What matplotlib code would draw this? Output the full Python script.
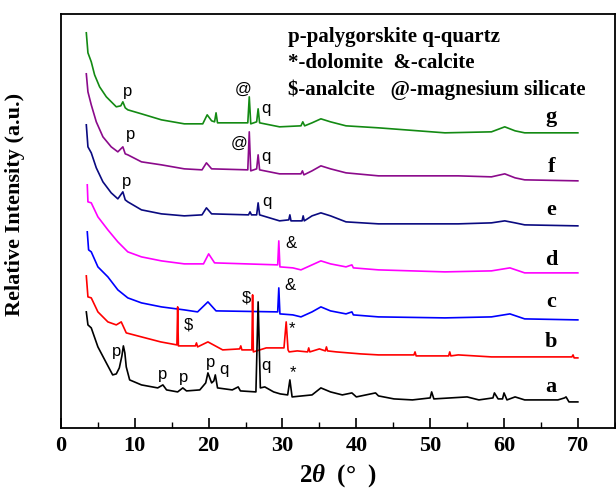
import matplotlib

matplotlib.use("Agg")
import matplotlib.pyplot as plt
from matplotlib.ticker import MultipleLocator

plt.rcParams["font.family"] = "Liberation Serif"
plt.rcParams["font.weight"] = "bold"
plt.rcParams["axes.labelweight"] = "bold"
plt.rcParams["mathtext.fontset"] = "custom"
plt.rcParams["mathtext.it"] = "Liberation Serif:italic:bold"
plt.rcParams["mathtext.rm"] = "Liberation Serif:bold"

# XRD traces: 2theta (deg) and stacked relative intensity
g_tt = [3.43, 3.65, 4.1, 4.55, 5.23, 6.14, 7.49, 8.1, 8.38, 8.7, 9.05, 10.9, 13.6, 16.7, 19.2,
        19.8, 20.4, 20.8, 21.0, 21.2, 25.3, 25.5, 25.7, 26.5, 26.7, 26.9, 29.6, 32.5, 32.75,
        33.0, 34.0, 35.2, 36.5, 38.6, 43.0, 52.0, 58.3, 60.1, 61.5, 62.8, 70.0]
g_int = [395, 375, 366, 353, 341, 331, 321, 322, 326, 320, 318, 314, 308, 304, 304,
         313, 307, 306, 315, 305, 305, 331, 304, 306, 319, 305, 301, 302, 306,
         302, 305, 309, 306, 302, 300, 295, 296, 301, 297, 295, 295]

f_tt = [3.43, 3.65, 4.1, 4.78, 5.68, 6.8, 7.7, 8.38, 8.7, 9.05, 10.9, 13.6, 16.7, 19.1, 19.7,
        20.4, 25.3, 25.5, 25.7, 26.5, 26.7, 26.9, 29.6, 32.5, 32.7, 32.9, 34.0, 35.2, 36.5,
        38.6, 43.0, 53.8, 58.3, 60.1, 61.5, 62.8, 70.0]
f_int = [354, 336, 323, 306, 291, 281, 276, 281, 274, 273, 266, 263, 259, 258, 265,
         259, 258, 296, 257, 259, 273, 258, 254, 254, 257, 253, 257, 262, 259,
         255, 252, 252, 251, 254, 250, 248, 247]

e_tt = [3.43, 3.65, 4.1, 4.78, 5.68, 6.8, 7.7, 8.38, 8.7, 9.05, 10.9, 13.6, 16.7, 19.1, 19.7,
        20.4, 25.4, 25.6, 25.8, 26.5, 26.7, 26.9, 29.6, 30.85, 31.0, 31.15, 32.65, 32.8, 32.95,
        34.0, 35.2, 36.5, 38.6, 43.0, 53.8, 58.3, 60.1, 61.5, 62.8, 70.0]
e_int = [303, 281, 275, 260, 246, 235, 229, 236, 228, 226, 218, 214, 212, 213, 220,
         214, 213, 216, 213, 213, 225, 213, 207, 208, 213, 207, 207, 212, 207,
         212, 215, 212, 206, 204, 204, 205, 207, 205, 203, 202]

d_tt = [3.56, 3.65, 4.1, 5.0, 6.35, 7.7, 9.05, 10.9, 13.6, 16.7, 19.3, 20.0, 20.8, 29.35,
        29.5, 29.65, 31.4, 32.5, 34.0, 35.2, 36.5, 38.6, 39.4, 39.6, 43.0, 52.0, 58.3, 60.8,
        62.0, 62.8, 70.0]
d_int = [243, 226, 225, 211, 198, 186, 176, 171, 167, 164, 164, 174, 165, 163,
         187, 161, 160, 158, 163, 167, 164, 161, 163, 160, 158, 156, 157, 160,
         157, 155, 155]

c_tt = [3.56, 3.74, 4.1, 5.0, 6.35, 7.7, 9.05, 10.9, 13.6, 16.7, 18.5, 19.9, 21.0, 29.35,
        29.5, 29.65, 31.4, 32.5, 34.0, 35.2, 36.5, 38.6, 39.4, 39.6, 43.0, 52.0, 58.3, 60.8,
        62.0, 62.8, 70.0]
c_int = [196, 178, 176, 161, 151, 138, 130, 125, 121, 118, 116, 126, 117, 116,
         140, 114, 113, 111, 116, 121, 117, 114, 116, 113, 111, 110, 111, 114,
         111, 109, 108]

b_tt = [3.43, 3.65, 4.1, 5.0, 6.35, 7.49, 8.16, 8.84, 10.9, 13.5, 15.7, 15.8, 15.9, 18.2,
        18.35, 18.5, 19.9, 21.9, 24.2, 24.35, 24.5, 25.85, 25.95, 26.05, 27.8, 30.2, 30.5,
        30.75, 30.9, 32.0, 33.4, 33.55, 33.7, 35.0, 35.8, 35.95, 36.1, 37.3, 40.6, 43.0, 47.8,
        47.95, 48.1, 52.5, 52.65, 52.8, 53.8, 58.3, 63.7, 69.2, 69.35, 69.5, 70.0]
b_int = [152, 131, 130, 116, 106, 103, 106, 95, 91, 86, 83, 121, 82, 82,
         85, 81, 86, 78, 79, 82, 78, 78, 133, 76, 80, 80, 106,
         78, 76, 77, 76, 80, 76, 79, 77, 81, 77, 76, 74, 73, 73,
         76, 72, 72, 76, 72, 73, 71, 71, 71, 73, 70, 70]

a_tt = [3.43, 3.65, 4.1, 5.0, 6.14, 7.0, 7.49, 7.9, 8.25, 8.45, 8.65, 8.84, 9.3, 10.9, 13.1,
        13.8, 14.3, 15.8, 16.5, 17.0, 18.8, 19.6, 19.9, 20.4, 20.7, 20.9, 21.2, 23.2, 24.0,
        24.3, 26.4, 26.7, 27.0, 27.6, 28.8, 29.7, 30.7, 31.0, 31.3, 34.0, 35.2, 36.5, 38.1,
        39.4, 40.0, 42.6, 43.0, 45.1, 47.6, 50.0, 50.2, 50.5, 55.0, 56.6, 58.5, 58.7, 59.2,
        59.8, 60.0, 60.4, 61.5, 62.8, 67.3, 68.2, 68.4, 68.8, 70.0]
a_int = [116, 103, 100, 81, 65, 53, 54, 60, 72, 82, 75, 61, 48, 43, 40,
         43, 38, 36, 40, 37, 38, 45, 55, 45, 47, 53, 40, 38, 41,
         37, 36, 126, 40, 41, 36, 34, 33, 48, 31, 33, 40, 36, 33,
         35, 31, 35, 32, 29, 28, 30, 36, 29, 31, 28, 30, 35, 29,
         29, 35, 28, 31, 28, 28, 30, 31, 26, 26]

samples = ["g", "f", "e", "d", "c", "b", "a"]
traces = {"g": (g_tt, g_int), "f": (f_tt, f_int), "e": (e_tt, e_int), "d": (d_tt, d_int),
          "c": (c_tt, c_int), "b": (b_tt, b_int), "a": (a_tt, a_int)}
colors = {"g": "#138a13", "f": "#8b0a8b", "e": "#0a0a80", "d": "#ff00ff",
          "c": "#0000ff", "b": "#ff0000", "a": "#000000"}
name_pos = {"g": 311, "f": 261, "e": 218, "d": 168, "c": 126, "b": 86, "a": 41}

# phase markers: (symbol, 2theta, height)
markers = [
    ("p", 9.0, 336), ("@", 24.7, 338), ("q", 27.8, 319),
    ("p", 9.4, 293), ("@", 24.2, 284), ("q", 27.8, 271),
    ("p", 8.9, 246), ("q", 27.9, 226),
    ("&", 31.1, 184),
    ("&", 31.0, 142),
    ("$", 17.3, 103), ("$", 25.1, 130), ("*", 31.3, 99),
    ("p", 7.5, 76), ("p", 13.7, 53), ("p", 16.6, 50), ("p", 20.2, 65),
    ("q", 22.1, 58), ("q", 27.8, 62), ("*", 31.4, 55),
]

legend_lines = ["p-palygorskite q-quartz", "*-dolomite  &-calcite", "$-analcite   @-magnesium silicate"]

fig = plt.figure(figsize=(6.16, 4.93), dpi=100)
ax = fig.add_axes([0.099, 0.132, 0.899, 0.840])

for s in samples:
    tt, inten = traces[s]
    ax.plot(tt, inten, color=colors[s], linewidth=1.2)
    ax.text(66.4, name_pos[s], s, fontsize=16, ha="center", va="center")

for sym, tt, h in markers:
    ax.text(tt, h, sym, fontsize=12, family="Liberation Sans", fontweight="normal",
            ha="center", va="center")

for k, line in enumerate(legend_lines):
    ax.text(30.7, 391 - 26.5 * k, line, fontsize=15, ha="left", va="center")

ax.set_xlim(0, 75)
ax.set_ylim(0, 414)
ax.xaxis.set_major_locator(MultipleLocator(10))
ax.xaxis.set_minor_locator(MultipleLocator(5))
ax.set_xticks(range(0, 71, 10))
ax.tick_params(axis="x", which="major", direction="in", length=7, width=1.2, labelsize=16, pad=6)
ax.tick_params(axis="x", which="minor", direction="in", length=4, width=1.0)
ax.set_yticks([])
for sp in ax.spines.values():
    sp.set_linewidth(1.3)

ax.set_xlabel(r"2$\theta$  (°  )", fontsize=18, labelpad=4)
ax.set_ylabel("Relative Intensity (a.u.)", fontsize=16)
ax.yaxis.set_label_coords(-0.065, 0.54)

fig.savefig("out.png", dpi=100)
